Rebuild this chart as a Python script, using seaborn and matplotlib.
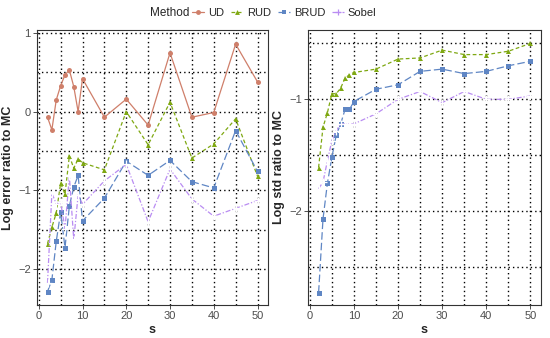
import pandas as pd
import seaborn as sns
import matplotlib.pyplot as plt
from matplotlib.lines import Line2D

# Sample sizes (x axis)
s_values = [2, 3, 4, 5, 6, 7, 8, 9, 10, 15, 20, 25, 30, 35, 40, 45, 50]

# Left panel: log error ratio to MC
err_ud = [-0.07, -0.23, 0.15, 0.33, 0.47, 0.53, 0.32, 0.0, 0.42, -0.07, 0.16, -0.17, 0.75, -0.07, -0.01, 0.86, 0.38]
err_rud = [-1.68, -1.47, -1.29, -0.91, -1.05, -0.56, -0.72, -0.60, -0.65, -0.74, 0.0, -0.42, 0.12, -0.59, -0.41, -0.09, -0.82]
err_brud = [-2.29, -2.14, -1.65, -1.28, -1.73, -1.20, -0.96, -0.81, -1.39, -1.10, -0.63, -0.81, -0.62, -0.89, -0.97, -0.24, -0.76]
err_sobel = [-2.18, -1.04, -1.17, -1.15, -1.49, -0.82, -1.63, -1.06, -1.18, -0.88, -0.67, -1.40, -0.73, -1.11, -1.33, -1.23, -1.13]

# Right panel: log std ratio to MC (no UD)
std_rud = [-1.61, -1.25, -1.12, -0.95, -0.95, -0.90, -0.81, -0.78, -0.76, -0.73, -0.64, -0.63, -0.56, -0.60, -0.60, -0.57, -0.50]
std_brud = [-2.73, -2.07, -1.75, -1.52, -1.32, -1.22, -1.09, -1.09, -1.02, -0.91, -0.87, -0.75, -0.73, -0.77, -0.75, -0.70, -0.66]
std_sobel = [-1.80, -1.74, -1.55, -1.37, -1.28, -1.22, -1.22, -1.22, -1.22, -1.13, -1.00, -0.93, -1.03, -0.93, -1.00, -1.00, -0.97]

methods = ['UD', 'RUD', 'BRUD', 'Sobel']
colors = {'UD': '#CF7F6A', 'RUD': '#7FA812', 'BRUD': '#5F86C4', 'Sobel': '#B98CF2'}
markers = {'UD': 'o', 'RUD': '^', 'BRUD': 's', 'Sobel': '+'}
dashes = {'UD': '-', 'RUD': (0, (3, 2)), 'BRUD': (0, (6, 2.5)), 'Sobel': (0, (4, 1.5, 1, 1.5))}

err_df = pd.DataFrame({
    's': s_values * 4,
    'value': err_ud + err_rud + err_brud + err_sobel,
    'Method': sum([[m] * len(s_values) for m in methods], []),
})
std_df = pd.DataFrame({
    's': s_values * 3,
    'value': std_rud + std_brud + std_sobel,
    'Method': sum([[m] * len(s_values) for m in methods[1:]], []),
})

sns.set_theme(style='white')
plt.rcParams['font.family'] = ['Liberation Sans', 'DejaVu Sans']

fig = plt.figure(figsize=(5.5, 3.38), dpi=100)
ax1 = fig.add_axes([37 / 550, 33 / 338, 231 / 550, 275 / 338])
ax2 = fig.add_axes([308 / 550, 33 / 338, 233 / 550, 275 / 338])


def draw_panel(ax, df):
    for m in df['Method'].unique():
        sub = df[df['Method'] == m]
        sns.lineplot(data=sub, x='s', y='value', ax=ax, color=colors[m],
                     marker=markers[m], markersize=3.6 if m != 'Sobel' else 5.5,
                     markeredgewidth=0 if m != 'Sobel' else 0.9,
                     linewidth=0.9, legend=False)
        ax.lines[-1].set_linestyle(dashes[m])
    ax.set_xlim(-0.4, 52.4)
    ax.set_xticks([0, 10, 20, 30, 40, 50])
    ax.set_xticks([5, 15, 25, 35, 45], minor=True)
    ax.grid(which='both', color='black', linestyle=(0, (1, 2.2)), linewidth=1.0)
    ax.tick_params(axis='both', which='major', direction='out', length=3, width=0.6,
                   color='#333333', labelsize=8, labelcolor='#4D4D4D', pad=1.5,
                   bottom=True, left=True)
    ax.tick_params(which='minor', length=0)
    for sp in ax.spines.values():
        sp.set_color('#333333')
        sp.set_linewidth(0.8)
    ax.set_xlabel('s', fontsize=9, fontweight='bold', labelpad=2)


draw_panel(ax1, err_df)
ax1.set_ylim(-2.46, 1.04)
ax1.set_yticks([-2, -1, 0, 1])
ax1.set_yticks([-1.5, -0.5, 0.5], minor=True)
ax1.set_ylabel('Log error ratio to MC', fontsize=9, fontweight='bold', labelpad=3)

draw_panel(ax2, std_df)
ax2.set_ylim(-2.84, -0.38)
ax2.set_yticks([-2, -1])
ax2.set_yticks([-2.5, -1.5, -0.5], minor=True)
ax2.set_ylabel('Log std ratio to MC', fontsize=9, fontweight='bold', labelpad=3)

# Legend on top, ggplot-style with title on the left
handles = [Line2D([0], [0], color=colors[m], marker=markers[m], linestyle=dashes[m],
                  linewidth=0.9, markersize=3.5 if m != 'Sobel' else 5,
                  markeredgewidth=0 if m != 'Sobel' else 0.9) for m in methods]
fig.text(150 / 550, 1 - 13 / 338, 'Method', fontsize=8.5, va='center', ha='left')
fig.legend(handles, methods, loc='center left', bbox_to_anchor=(192 / 550, 1 - 13 / 338),
           ncol=4, frameon=False, fontsize=8, handlelength=1.1, handletextpad=0.35,
           columnspacing=0.6, borderaxespad=0, borderpad=0)

fig.savefig('out.png', dpi=100)
